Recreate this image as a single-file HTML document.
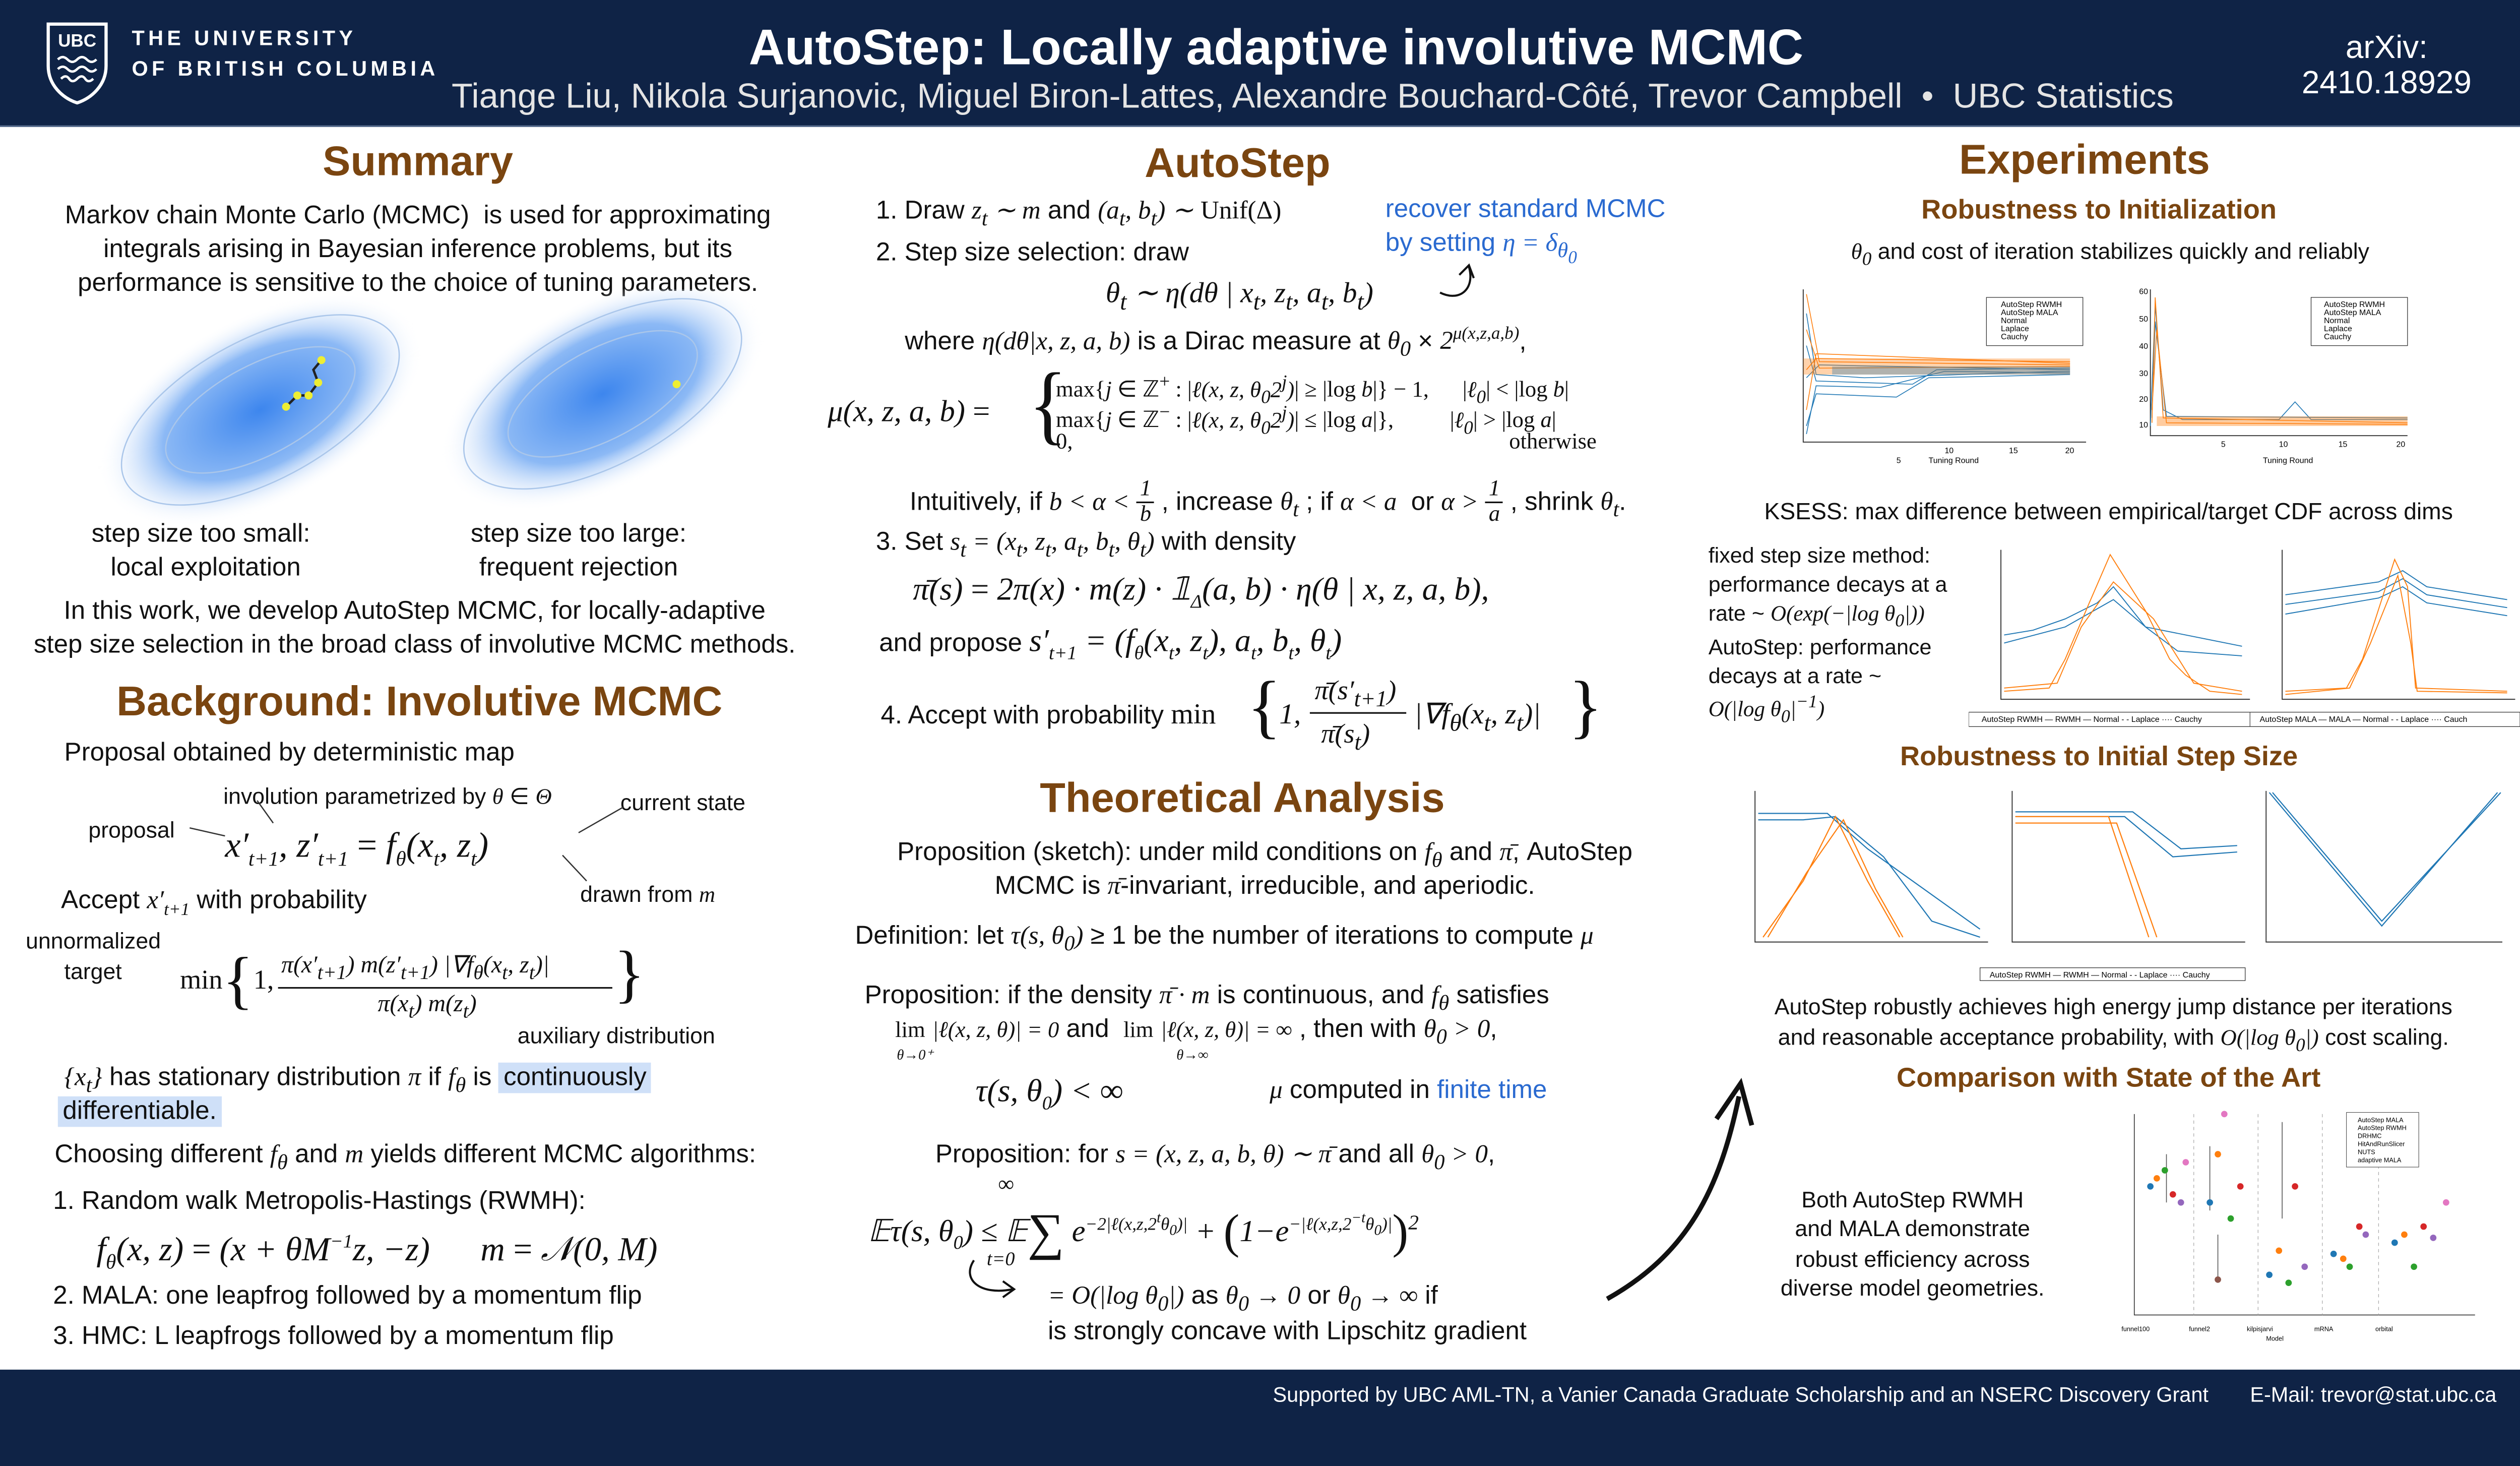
<!DOCTYPE html>
<html><head><meta charset="utf-8"><style>
html,body{margin:0;padding:0;background:#fff;width:100%;height:100%;overflow:hidden}
#w{position:absolute;left:0;top:0;width:1568px;height:882px;transform:scale(3.1888);transform-origin:0 0;font-family:"Liberation Sans",sans-serif;color:#111}
.t{position:absolute;white-space:nowrap;font-size:16px;line-height:1}
.c{transform:translateX(-50%)}
.h{font-size:26px;font-weight:bold;color:#7a4510}
.h2{font-size:17px;font-weight:bold;color:#7a4510}
.m{font-family:"Liberation Serif",serif;font-style:italic}
.r{font-family:"Liberation Serif",serif}
.b{color:#2a6ad0}
.s{font-size:14px}
svg{position:absolute}
</style></head><body>
<div id="w">
<div style="position:absolute;left:0;top:0;width:1620px;height:78px;background:#0f2346;border-bottom:1px solid #5a6f90"></div>
<div style="position:absolute;left:0;top:852px;width:1620px;height:60px;background:#0f2346"></div>
<svg style="left:28px;top:13px" width="40" height="52" viewBox="0 0 40 52"><path d="M2 2h36v26c0 12-9 20-18 23C11 48 2 40 2 28Z" fill="none" stroke="#fff" stroke-width="2"/><text x="20" y="16" fill="#fff" font-size="11" font-weight="bold" text-anchor="middle" font-family="Liberation Sans">UBC</text><path d="M8 24q3-3 6 0t6 0 6 0 6 0M8 30q3-3 6 0t6 0 6 0 6 0M10 36q3-3 5 0t5 0 5 0 5 0" stroke="#fff" fill="none" stroke-width="1.5"/></svg>
<div class="t" style="left:82px;top:17px;font-size:13px;color:#fff;letter-spacing:2.3px;font-weight:bold">THE UNIVERSITY</div>
<div class="t" style="left:82px;top:36px;font-size:13px;color:#fff;letter-spacing:2.3px;font-weight:bold">OF BRITISH COLUMBIA</div>
<div class="t c" style="left:794px;top:14px;font-size:31px;font-weight:bold;color:#fff">AutoStep: Locally adaptive involutive MCMC</div>
<div class="t" style="left:281px;top:50px;font-size:21.5px;color:#e4e4e4">Tiange Liu, Nikola Surjanovic, Miguel Biron-Lattes, Alexandre Bouchard-Côté, Trevor Campbell &nbsp;•&nbsp; UBC Statistics</div>
<div class="t c" style="left:1485px;top:20px;font-size:20px;color:#fff">arXiv:</div>
<div class="t c" style="left:1485px;top:42px;font-size:20px;color:#fff">2410.18929</div>
<div class="t" style="left:792px;top:861px;font-size:13px;color:#fff">Supported by UBC AML-TN, a Vanier Canada Graduate Scholarship and an NSERC Discovery Grant</div>
<div class="t" style="left:1400px;top:861px;font-size:13px;color:#fff">E-Mail: trevor@stat.ubc.ca</div>

<!-- LEFT -->
<div class="t c h" style="left:260px;top:87px">Summary</div>
<div class="t c" style="left:260px;top:127px">Markov chain Monte Carlo (MCMC)&nbsp; is used for approximating</div>
<div class="t c" style="left:260px;top:148px">integrals arising in Bayesian inference problems, but its</div>
<div class="t c" style="left:260px;top:169px">performance is sensitive to the choice of tuning parameters.</div>
<svg style="left:40px;top:180px" width="440" height="150"><defs><radialGradient id="g"><stop offset="0" stop-color="#3d86ee"/><stop offset="0.6" stop-color="#8cb9f5"/><stop offset="1" stop-color="#fff" stop-opacity="0"/></radialGradient></defs>
<g transform="translate(122,75) rotate(-28)"><ellipse rx="110" ry="58" fill="url(#g)"/><ellipse rx="95" ry="44" fill="none" stroke="#aac6ea" stroke-width="0.8"/><ellipse rx="65" ry="28" fill="none" stroke="#aac6ea" stroke-width="0.8"/></g>
<g transform="translate(335,65) rotate(-28)"><ellipse rx="110" ry="58" fill="url(#g)"/><ellipse rx="95" ry="44" fill="none" stroke="#aac6ea" stroke-width="0.8"/><ellipse rx="65" ry="28" fill="none" stroke="#aac6ea" stroke-width="0.8"/></g>
<polyline points="138,73 145,66 152,66 158,58 155,50 160,44" fill="none" stroke="#222" stroke-width="1.5"/>
<g fill="#ee3"><circle cx="138" cy="73" r="2.5"/><circle cx="145" cy="66" r="2.5"/><circle cx="152" cy="66" r="2.5"/><circle cx="158" cy="58" r="2.5"/><circle cx="160" cy="44" r="2.5"/><circle cx="381" cy="59" r="2.5"/></g></svg>
<div class="t c" style="left:125px;top:325px">step size too small:</div>
<div class="t c" style="left:128px;top:346px">local exploitation</div>
<div class="t c" style="left:360px;top:325px">step size too large:</div>
<div class="t c" style="left:360px;top:346px">frequent rejection</div>
<div class="t c" style="left:258px;top:373px">In this work, we develop AutoStep MCMC, for locally-adaptive</div>
<div class="t c" style="left:258px;top:394px">step size selection in the broad class of involutive MCMC methods.</div>
<div class="t c h" style="left:261px;top:423px">Background: Involutive MCMC</div>
<div class="t" style="left:40px;top:461px">Proposal obtained by deterministic map</div>
<div class="t s" style="left:139px;top:488px">involution parametrized by <span class="m">θ</span> ∈ <span class="m">Θ</span></div>
<div class="t s" style="left:386px;top:492px">current state</div>
<div class="t s" style="left:55px;top:509px">proposal</div>
<div class="t m" style="left:140px;top:515px;font-size:22px">x′<sub style="font-size:13px">t+1</sub>, z′<sub style="font-size:13px">t+1</sub> <span class="r" style="font-style:normal">=</span> f<sub style="font-size:13px">θ</sub>(x<sub style="font-size:13px">t</sub>, z<sub style="font-size:13px">t</sub>)</div>
<svg style="left:100px;top:490px" width="300" height="70"><path d="M18 25 L40 30M60 8 L70 22M288 12 L260 28M250 42 L265 58" stroke="#333" fill="none" stroke-width="0.8"/></svg>
<div class="t" style="left:38px;top:553px">Accept <span class="m">x′<sub style="font-size:11px">t+1</sub></span> with probability</div>
<div class="t s" style="left:361px;top:549px">drawn from <span class="m">m</span></div>
<div class="t s" style="left:16px;top:578px">unnormalized</div>
<div class="t s" style="left:40px;top:597px">target</div>
<div class="t r" style="left:112px;top:590px;font-size:17px">min<span style="font-size:40px;vertical-align:-8px">{</span>1, </div>
<div class="t m" style="left:175px;top:594px;font-size:15px">π(x′<sub>t+1</sub>) m(z′<sub>t+1</sub>) |∇f<sub>θ</sub>(x<sub>t</sub>, z<sub>t</sub>)|</div>
<div style="position:absolute;left:173px;top:614px;width:208px;border-top:1px solid #111"></div>
<div class="t m" style="left:235px;top:618px;font-size:15px">π(x<sub>t</sub>) m(z<sub>t</sub>)</div>
<div class="t r" style="left:382px;top:586px;font-size:40px">}</div>
<div class="t s" style="left:322px;top:637px">auxiliary distribution</div>
<div class="t" style="left:40px;top:663px"><span class="m">{x<sub>t</sub>}</span> has stationary distribution <span class="m">π</span> if <span class="m">f<sub>θ</sub></span> is <span style="background:#cfe0f8;padding:1px 3px">continuously</span></div>
<div class="t" style="left:36px;top:684px"><span style="background:#cfe0f8;padding:1px 3px">differentiable.</span></div>
<div class="t" style="left:34px;top:711px">Choosing different <span class="m">f<sub>θ</sub></span> and <span class="m">m</span> yields different MCMC algorithms:</div>
<div class="t" style="left:33px;top:740px">1. Random walk Metropolis-Hastings (RWMH):</div>
<div class="t m" style="left:60px;top:766px;font-size:21px">f<sub style="font-size:13px">θ</sub>(x, z) <span class="r" style="font-style:normal">=</span> (x + θM<sup style="font-size:12px">−1</sup>z, −z) &nbsp;&nbsp;&nbsp;&nbsp; m <span class="r" style="font-style:normal">=</span> 𝒩(0, M)</div>
<div class="t" style="left:33px;top:799px">2. MALA: one leapfrog followed by a momentum flip</div>
<div class="t" style="left:33px;top:824px">3. HMC: L leapfrogs followed by a momentum flip</div>

<!-- MIDDLE -->
<div class="t c h" style="left:770px;top:88px">AutoStep</div>
<div class="t" style="left:545px;top:124px">1. Draw <span class="m">z<sub>t</sub> ∼ m</span> and <span class="m">(a<sub>t</sub>, b<sub>t</sub>) ∼</span> <span class="r">Unif(Δ)</span></div>
<div class="t b" style="left:862px;top:123px">recover standard MCMC</div>
<div class="t b" style="left:862px;top:144px">by setting <span class="m">η = δ<sub>θ<sub>0</sub></sub></span></div>
<div class="t" style="left:545px;top:150px">2. Step size selection: draw</div>
<div class="t m" style="left:688px;top:173px;font-size:18px">θ<sub>t</sub> ∼ η(dθ | x<sub>t</sub>, z<sub>t</sub>, a<sub>t</sub>, b<sub>t</sub>)</div>
<svg style="left:892px;top:162px" width="30" height="30"><path d="M22 4 C26 18 16 26 4 20" stroke="#111" fill="none" stroke-width="1.3"/><path d="M16 9 L22 3 L25 11" stroke="#111" fill="none" stroke-width="1.3"/></svg>
<div class="t" style="left:563px;top:203px">where <span class="m">η(dθ|x, z, a, b)</span> is a Dirac measure at <span class="m">θ<sub>0</sub></span> × <span class="m">2<sup style="font-size:11px">μ(x,z,a,b)</sup></span>,</div>
<div class="t m" style="left:515px;top:247px;font-size:19px">μ(x, z, a, b) <span class="r" style="font-style:normal">=</span></div>
<div class="t r" style="left:640px;top:226px;font-size:50px;transform:scaleY(1.1)">{</div>
<div class="t r s" style="left:657px;top:232px">max{<span class="m">j</span> ∈ ℤ<sup>+</sup> : |<span class="m">ℓ(x, z, θ<sub>0</sub>2<sup>j</sup>)</span>| ≥ |log <span class="m">b</span>|} − 1, &nbsp;&nbsp;&nbsp;&nbsp; |<span class="m">ℓ<sub>0</sub></span>| &lt; |log <span class="m">b</span>|</div>
<div class="t r s" style="left:657px;top:251px">max{<span class="m">j</span> ∈ ℤ<sup>−</sup> : |<span class="m">ℓ(x, z, θ<sub>0</sub>2<sup>j</sup>)</span>| ≤ |log <span class="m">a</span>|}, &nbsp;&nbsp;&nbsp;&nbsp;&nbsp;&nbsp;&nbsp;&nbsp; |<span class="m">ℓ<sub>0</sub></span>| &gt; |log <span class="m">a</span>|</div>
<div class="t r s" style="left:657px;top:269px">0, <span style="margin-left:268px">otherwise</span></div>
<div class="t" style="left:566px;top:297px">Intuitively, if <span class="m">b &lt; α &lt;</span> <span class="m" style="display:inline-block;vertical-align:middle;text-align:center;font-size:14px;line-height:16px">1<br><span style="border-top:1px solid #111;padding:0 2px">b</span></span> , increase <span class="m">θ<sub>t</sub></span> ; if <span class="m">α &lt; a</span>&nbsp; or <span class="m">α &gt;</span> <span class="m" style="display:inline-block;vertical-align:middle;text-align:center;font-size:14px;line-height:16px">1<br><span style="border-top:1px solid #111;padding:0 2px">a</span></span> , shrink <span class="m">θ<sub>t</sub></span>.</div>
<div class="t" style="left:545px;top:330px">3. Set <span class="m">s<sub>t</sub> = (x<sub>t</sub>, z<sub>t</sub>, a<sub>t</sub>, b<sub>t</sub>, θ<sub>t</sub>)</span> with density</div>
<div class="t m" style="left:568px;top:357px;font-size:20px">π̄(s) <span class="r" style="font-style:normal">=</span> 2π(x) · m(z) · 𝟙<sub style="font-size:12px">Δ</sub>(a, b) · η(θ | x, z, a, b),</div>
<div class="t" style="left:547px;top:389px">and propose <span class="m" style="font-size:20px">s′<sub style="font-size:12px">t+1</sub> = (f<sub style="font-size:12px">θ</sub>(x<sub style="font-size:12px">t</sub>, z<sub style="font-size:12px">t</sub>), a<sub style="font-size:12px">t</sub>, b<sub style="font-size:12px">t</sub>, θ<sub style="font-size:12px">t</sub>)</span></div>
<div class="t" style="left:548px;top:435px">4. Accept with probability <span class="r" style="font-size:18px">min</span></div>
<div class="t r" style="left:776px;top:418px;font-size:44px">{</div>
<div class="t m" style="left:796px;top:435px;font-size:18px">1,</div>
<div class="t m" style="left:818px;top:421px;font-size:17px">π̄(s′<sub>t+1</sub>)</div>
<div style="position:absolute;left:815px;top:443px;width:60px;border-top:1px solid #111"></div>
<div class="t m" style="left:822px;top:448px;font-size:17px">π̄(s<sub>t</sub>)</div>
<div class="t m" style="left:880px;top:435px;font-size:18px">|∇f<sub>θ</sub>(x<sub>t</sub>, z<sub>t</sub>)|</div>
<div class="t r" style="left:976px;top:418px;font-size:44px">}</div>
<div class="t c h" style="left:773px;top:483px">Theoretical Analysis</div>
<div class="t c" style="left:787px;top:523px">Proposition (sketch): under mild conditions on <span class="m">f<sub>θ</sub></span> and <span class="m">π̄</span>, AutoStep</div>
<div class="t c" style="left:787px;top:544px">MCMC is <span class="m">π̄</span>-invariant, irreducible, and aperiodic.</div>
<div class="t" style="left:532px;top:575px">Definition: let <span class="m">τ(s, θ<sub>0</sub>)</span> ≥ 1 be the number of iterations to compute <span class="m">μ</span></div>
<div class="t" style="left:538px;top:612px">Proposition: if the density <span class="m">π̄ · m</span> is continuous, and <span class="m">f<sub>θ</sub></span> satisfies</div>
<div class="t" style="left:557px;top:633px"><span class="r s">lim</span> <span class="m s">|ℓ(x, z, θ)| = 0</span> and&nbsp; <span class="r s">lim</span> <span class="m s">|ℓ(x, z, θ)| = ∞</span> , then with <span class="m">θ<sub>0</sub> &gt; 0</span>,</div>
<div class="t m" style="left:558px;top:652px;font-size:9px">θ→0⁺</div>
<div class="t m" style="left:732px;top:652px;font-size:9px">θ→∞</div>
<div class="t m" style="left:607px;top:669px;font-size:20px">τ(s, θ<sub style="font-size:12px">0</sub>) &lt; ∞</div>
<div class="t" style="left:790px;top:671px"><span class="m">μ</span> computed in <span class="b">finite time</span></div>
<div class="t" style="left:582px;top:711px">Proposition: for <span class="m">s = (x, z, a, b, θ) ∼ π̄</span> and all <span class="m">θ<sub>0</sub> &gt; 0</span>,</div>
<div class="t r" style="left:621px;top:731px;font-size:14px">∞</div>
<div class="t m" style="left:540px;top:750px;font-size:19px">𝔼τ(s, θ<sub style="font-size:12px">0</sub>) ≤ 𝔼<span style="font-size:32px;font-style:normal;vertical-align:-5px">∑</span> e<sup style="font-size:11px">−2|ℓ(x,z,2<sup>t</sup>θ<sub>0</sub>)|</sup> + <span style="font-size:30px;font-style:normal;vertical-align:-4px">(</span>1−e<sup style="font-size:11px">−|ℓ(x,z,2<sup>−t</sup>θ<sub>0</sub>)|</sup><span style="font-size:30px;font-style:normal;vertical-align:-4px">)</span><sup style="font-size:13px">2</sup></div>
<div class="t m" style="left:614px;top:777px;font-size:12px">t=0</div>
<svg style="left:598px;top:780px" width="40" height="30"><path d="M8 4 C0 16 12 26 32 22" stroke="#111" fill="none" stroke-width="1.3"/><path d="M26 17 L33 22 L26 27" stroke="#111" fill="none" stroke-width="1.3"/></svg>
<div class="t" style="left:652px;top:799px"><span class="m">= O(|log θ<sub>0</sub>|)</span> as <span class="m">θ<sub>0</sub> → 0</span> or <span class="m">θ<sub>0</sub> → ∞</span> if</div>
<div class="t" style="left:652px;top:821px">is strongly concave with Lipschitz gradient</div>
<svg style="left:990px;top:660px" width="110" height="160"><path d="M10 148 C60 120 80 80 92 22" stroke="#111" fill="none" stroke-width="3"/><path d="M78 36 L93 14 L100 40" stroke="#111" fill="none" stroke-width="3"/></svg>

<!-- RIGHT -->
<div class="t c h" style="left:1297px;top:86px">Experiments</div>
<div class="t c h2" style="left:1306px;top:122px">Robustness to Initialization</div>
<div class="t c s" style="left:1313px;top:149px"><span class="m">θ<sub>0</sub></span> and cost of iteration stabilizes quickly and reliably</div>
<svg style="left:1100px;top:175px" width="200" height="120" font-family="Liberation Sans" font-size="5">
<path d="M22 5V100H198" stroke="#333" fill="none" stroke-width="0.6"/>
<g stroke="#1f77b4" stroke-width="0.5" fill="none"><path d="M24 20 L30 58 L60 60 L180 56 L188 56"/><path d="M24 90 L30 70 L80 72 L100 60 L188 58"/><path d="M24 40 L30 62 L90 64 L105 55 L188 54"/><path d="M24 60 L32 52 L188 55"/><path d="M24 95 L30 65 L70 66 L110 56 L188 57"/></g>
<g stroke="#ff7f0e" stroke-width="0.5" fill="none"><path d="M24 8 L32 50 L188 52"/><path d="M24 80 L30 45 L188 51"/><path d="M24 30 L32 54 L188 53"/><path d="M24 55 L30 48 L188 50"/></g>
<rect x="22" y="48" width="166" height="10" fill="#ff7f0e" opacity="0.35"/><rect x="40" y="53" width="148" height="5" fill="#1f77b4" opacity="0.35"/>
<rect x="136" y="10" width="60" height="30" fill="#fff" stroke="#333" stroke-width="0.4"/>
<text x="145" y="16">AutoStep RWMH</text><text x="145" y="21">AutoStep MALA</text><text x="145" y="26">Normal</text><text x="145" y="31">Laplace</text><text x="145" y="36">Cauchy</text>
<text x="80" y="113">5</text><text x="110" y="107">10</text><text x="150" y="107">15</text><text x="185" y="107">20</text><text x="100" y="113">Tuning Round</text></svg>
<svg style="left:1318px;top:175px" width="185" height="120" font-family="Liberation Sans" font-size="5">
<path d="M20 5V96H180" stroke="#333" fill="none" stroke-width="0.6"/>
<text x="13" y="8">60</text><text x="13" y="25">50</text><text x="13" y="42">40</text><text x="13" y="59">30</text><text x="13" y="75">20</text><text x="13" y="91">10</text>
<g stroke="#1f77b4" stroke-width="0.5" fill="none"><path d="M20 90 L23 15 L28 80 L40 86 L100 86 L110 75 L120 86 L180 86"/><path d="M21 85 L23 25 L30 84 L180 85"/></g>
<g stroke="#ff7f0e" stroke-width="0.5" fill="none"><path d="M21 88 L23 10 L28 85 L180 88"/><path d="M21 80 L24 30 L30 88 L180 89"/></g>
<rect x="24" y="84" width="156" height="6" fill="#ff7f0e" opacity="0.4"/>
<rect x="120" y="10" width="60" height="30" fill="#fff" stroke="#333" stroke-width="0.4"/>
<text x="128" y="16">AutoStep RWMH</text><text x="128" y="21">AutoStep MALA</text><text x="128" y="26">Normal</text><text x="128" y="31">Laplace</text><text x="128" y="36">Cauchy</text>
<text x="64" y="103">5</text><text x="100" y="103">10</text><text x="137" y="103">15</text><text x="173" y="103">20</text><text x="90" y="113">Tuning Round</text></svg>
<div class="t c" style="left:1312px;top:312px;font-size:14.5px">KSESS: max difference between empirical/target CDF across dims</div>
<div class="t" style="left:1063px;top:339px;font-size:13.5px">fixed step size method:</div>
<div class="t" style="left:1063px;top:357px;font-size:13.5px">performance decays at a</div>
<div class="t" style="left:1063px;top:375px;font-size:13.5px">rate ~ <span class="m">O(exp(−|log θ<sub>0</sub>|))</span></div>
<div class="t" style="left:1063px;top:396px;font-size:13.5px">AutoStep: performance</div>
<div class="t" style="left:1063px;top:414px;font-size:13.5px">decays at a rate ~</div>
<div class="t m" style="left:1063px;top:432px;font-size:13.5px">O(|log θ<sub>0</sub>|<sup>−1</sup>)</div>
<svg style="left:1225px;top:340px" width="175" height="120" font-family="Liberation Sans" font-size="5">
<path d="M20 2V95H175" stroke="#333" fill="none" stroke-width="0.6"/>
<g stroke="#1f77b4" stroke-width="0.6" fill="none"><path d="M22 55 L40 52 L60 45 L80 35 L90 25 L110 50 L130 65 L170 68"/><path d="M22 60 L60 50 L90 33 L110 50 L170 62"/></g>
<g stroke="#ff7f0e" stroke-width="0.6" fill="none"><path d="M22 90 L50 88 L60 70 L75 35 L88 5 L110 40 L125 70 L135 80 L150 90 L170 92"/><path d="M22 88 L55 85 L70 50 L90 22 L115 45 L140 85 L170 90"/></g>
<rect x="0" y="103" width="175" height="9" fill="#fff" stroke="#333" stroke-width="0.4"/><text x="8" y="109">AutoStep RWMH — RWMH — Normal - - Laplace ···· Cauchy</text></svg>
<svg style="left:1400px;top:340px" width="168" height="120" font-family="Liberation Sans" font-size="5">
<path d="M20 2V95H165" stroke="#333" fill="none" stroke-width="0.6"/>
<g stroke="#1f77b4" stroke-width="0.6" fill="none"><path d="M22 30 L80 22 L95 15 L110 25 L160 33"/><path d="M22 36 L80 28 L95 20 L110 30 L160 38"/><path d="M22 42 L80 32 L95 25 L110 35 L160 43"/></g>
<g stroke="#ff7f0e" stroke-width="0.6" fill="none"><path d="M22 90 L60 88 L70 70 L90 8 L98 25 L103 88 L160 90"/><path d="M22 92 L62 88 L75 60 L92 18 L100 60 L104 90 L160 91"/></g>
<rect x="0" y="103" width="168" height="9" fill="#fff" stroke="#333" stroke-width="0.4"/><text x="6" y="109">AutoStep MALA — MALA — Normal - - Laplace ···· Cauch</text></svg>
<div class="t c h2" style="left:1306px;top:462px">Robustness to Initial Step Size</div>
<svg style="left:1062px;top:488px" width="505" height="125" font-family="Liberation Sans" font-size="5">
<path d="M30 4V98H175M190 4V98H335M348 4V98H495" stroke="#333" fill="none" stroke-width="0.6"/>
<g stroke="#1f77b4" stroke-width="0.7" fill="none"><path d="M32 22 L60 22 L80 20 L110 45 L140 85 L170 95"/><path d="M32 18 L75 18 L100 40 L170 90"/><path d="M192 20 L260 20 L290 45 L330 42"/><path d="M192 17 L265 17 L295 40 L330 38"/><path d="M350 5 L420 88 L492 5"/><path d="M352 5 L420 85 L494 5"/></g>
<g stroke="#ff7f0e" stroke-width="0.7" fill="none"><path d="M35 95 L60 60 L80 20 L100 60 L120 95"/><path d="M38 95 L62 55 L85 22 L105 65 L122 95"/><path d="M192 20 L250 20 L275 95"/><path d="M192 24 L255 24 L280 95"/></g>
<rect x="170" y="114" width="165" height="8" fill="#fff" stroke="#333" stroke-width="0.4"/><text x="176" y="120">AutoStep RWMH — RWMH — Normal - - Laplace ···· Cauchy</text></svg>
<div class="t c s" style="left:1315px;top:619px">AutoStep robustly achieves high energy jump distance per iterations</div>
<div class="t c s" style="left:1315px;top:638px">and reasonable acceptance probability, with <span class="m">O(|log θ<sub>0</sub>|)</span> cost scaling.</div>
<div class="t c h2" style="left:1312px;top:662px">Comparison with State of the Art</div>
<div class="t c s" style="left:1190px;top:739px">Both AutoStep RWMH</div>
<div class="t c s" style="left:1190px;top:757px">and MALA demonstrate</div>
<div class="t c s" style="left:1190px;top:776px">robust efficiency across</div>
<div class="t c s" style="left:1190px;top:794px">diverse model geometries.</div>
<svg style="left:1300px;top:688px" width="245" height="150" font-family="Liberation Sans" font-size="4">
<path d="M28 5V130H240" stroke="#333" fill="none" stroke-width="0.5"/>
<g stroke="#aaa" stroke-dasharray="2 2" stroke-width="0.4"><path d="M65 5V130M105 5V130M145 5V130M180 5V130"/></g>
<g stroke="#555" stroke-width="0.5"><path d="M48 30V60M75 25V65M120 10V70M80 80V110"/></g>
<g><circle cx="38" cy="50" r="2" fill="#1f77b4"/><circle cx="42" cy="45" r="2" fill="#ff7f0e"/><circle cx="47" cy="40" r="2" fill="#2ca02c"/><circle cx="52" cy="55" r="2" fill="#d62728"/><circle cx="57" cy="60" r="2" fill="#9467bd"/><circle cx="60" cy="35" r="2" fill="#e377c2"/>
<circle cx="75" cy="60" r="2" fill="#1f77b4"/><circle cx="80" cy="30" r="2" fill="#ff7f0e"/><circle cx="84" cy="5" r="2" fill="#e377c2"/><circle cx="88" cy="70" r="2" fill="#2ca02c"/><circle cx="94" cy="50" r="2" fill="#d62728"/><circle cx="80" cy="108" r="2" fill="#8c564b"/>
<circle cx="112" cy="105" r="2" fill="#1f77b4"/><circle cx="118" cy="90" r="2" fill="#ff7f0e"/><circle cx="124" cy="110" r="2" fill="#2ca02c"/><circle cx="128" cy="50" r="2" fill="#d62728"/><circle cx="134" cy="100" r="2" fill="#9467bd"/>
<circle cx="152" cy="92" r="2" fill="#1f77b4"/><circle cx="158" cy="95" r="2" fill="#ff7f0e"/><circle cx="162" cy="100" r="2" fill="#2ca02c"/><circle cx="168" cy="75" r="2" fill="#d62728"/><circle cx="172" cy="80" r="2" fill="#9467bd"/>
<circle cx="190" cy="85" r="2" fill="#1f77b4"/><circle cx="196" cy="80" r="2" fill="#ff7f0e"/><circle cx="202" cy="100" r="2" fill="#2ca02c"/><circle cx="208" cy="75" r="2" fill="#d62728"/><circle cx="214" cy="82" r="2" fill="#9467bd"/><circle cx="222" cy="60" r="2" fill="#e377c2"/></g>
<rect x="160" y="4" width="45" height="34" fill="#fff" stroke="#333" stroke-width="0.3"/><text x="167" y="10">AutoStep MALA</text><text x="167" y="15">AutoStep RWMH</text><text x="167" y="20">DRHMC</text><text x="167" y="25">HitAndRunSlicer</text><text x="167" y="30">NUTS</text><text x="167" y="35">adaptive MALA</text>
<text x="20" y="140">funnel100</text><text x="62" y="140">funnel2</text><text x="98" y="140">kilpisjarvi</text><text x="140" y="140">mRNA</text><text x="178" y="140">orbital</text><text x="110" y="146">Model</text></svg>
</div></body></html>
